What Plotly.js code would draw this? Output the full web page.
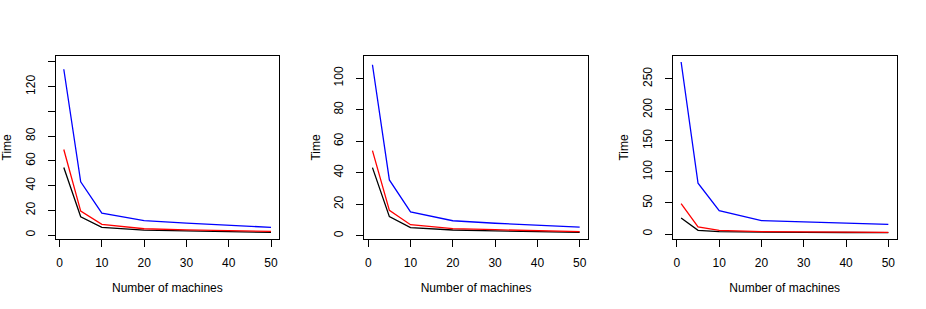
<!DOCTYPE html>
<html>
<head>
<meta charset="utf-8">
<script src="https://cdn.plot.ly/plotly-3.0.1.min.js"></script>
<style>html,body{margin:0;padding:0;background:#fff;}#chart{width:926px;height:309px;}</style>
</head>
<body>
<div id="chart"></div>
<script>
// Shared x values: number of machines
var machines = [1, 5, 10, 20, 30, 40, 50];

// Panel 1
var p1Black = [54.7, 14.8, 6.2, 4.0, 3.3, 2.8, 2.2];
var p1Red   = [69.2, 19.4, 8.6, 5.1, 4.2, 3.5, 3.0];
var p1Blue  = [134.1, 43.1, 17.8, 11.6, 9.7, 7.8, 6.2];

// Panel 2
var p2Black = [43.2, 12.1, 5.1, 3.6, 3.0, 2.5, 2.1];
var p2Red   = [54.0, 16.1, 7.0, 4.5, 3.8, 3.2, 2.6];
var p2Blue  = [108.5, 35.4, 15.1, 9.5, 7.9, 6.7, 5.5];

// Panel 3
var p3Black = [25.8, 5.9, 3.8, 2.7, 2.5, 2.4, 2.3];
var p3Red   = [48.9, 11.3, 5.9, 3.8, 3.5, 3.2, 2.7];
var p3Blue  = [277, 81.7, 37.6, 21.5, 19.5, 17.0, 15.6];

// Tick labels
var xTicks = [0, 10, 20, 30, 40, 50];
var y1Ticks = [0, 20, 40, 60, 80, 100, 120, 140];
var y1Text  = ['0', '20', '40', '60', '80', '', '120', ''];
var y2Ticks = [0, 20, 40, 60, 80, 100];
var y3Ticks = [0, 50, 100, 150, 200, 250];

var xTitle = 'Number of machines';
var yTitle = 'Time';

var panels = [
  {black: p1Black, red: p1Red, blue: p1Blue},
  {black: p2Black, red: p2Red, blue: p2Blue},
  {black: p3Black, red: p3Red, blue: p3Blue}
];

var traces = [];
panels.forEach(function (p, i) {
  var xa = i === 0 ? 'x' : 'x' + (i + 1);
  var ya = i === 0 ? 'y' : 'y' + (i + 1);
  [['black', '#000000'], ['red', '#FF0000'], ['blue', '#0000FF']].forEach(function (s) {
    traces.push({
      x: machines, y: p[s[0]], xaxis: xa, yaxis: ya,
      type: 'scatter', mode: 'lines',
      line: {color: s[1], width: 1.3},
      showlegend: false, hoverinfo: 'skip'
    });
  });
});

var font = {family: 'Liberation Sans, Arial, Helvetica, sans-serif', size: 12, color: '#000'};
var W = 926, pw = W / 3;
var yDom = [1 - 239 / 309, 1 - 55.8 / 309];

function xAxis(i) {
  return {
    domain: [(55.5 + i * pw) / W, (279.3 + i * pw) / W],
    range: [-0.96, 51.96],
    tickvals: xTicks, ticktext: xTicks.map(String),
    ticks: 'outside', ticklen: 7, tickwidth: 1, tickcolor: '#000',
    ticklabelstandoff: 6,
    showline: true, mirror: true, linecolor: '#000', linewidth: 1,
    showgrid: false, zeroline: false, fixedrange: true,
    tickfont: font,
    title: {text: xTitle, font: font, standoff: 14},
    anchor: i === 0 ? 'y' : 'y' + (i + 1)
  };
}
function yAxis(i, range, vals, text) {
  return {
    domain: yDom, range: range,
    tickvals: vals, ticktext: text,
    tickangle: -90,
    ticks: 'outside', ticklen: 7, tickwidth: 1, tickcolor: '#000',
    ticklabelstandoff: 8,
    showline: true, mirror: true, linecolor: '#000', linewidth: 1,
    showgrid: false, zeroline: false, fixedrange: true,
    tickfont: font,
    title: {text: yTitle, font: font, standoff: 9},
    anchor: i === 0 ? 'x' : 'x' + (i + 1)
  };
}

var layout = {
  width: 926, height: 309,
  margin: {l: 0, r: 0, t: 0, b: 0},
  paper_bgcolor: '#fff', plot_bgcolor: '#fff',
  font: font,
  showlegend: false,
  xaxis: xAxis(0), xaxis2: xAxis(1), xaxis3: xAxis(2),
  yaxis: yAxis(0, [-3.2, 145], y1Ticks, y1Text),
  yaxis2: yAxis(1, [-2.1, 114.2], y2Ticks, y2Ticks.map(String)),
  yaxis3: yAxis(2, [-8.06, 287], y3Ticks, y3Ticks.map(String))
};

Plotly.newPlot('chart', traces, layout, {displayModeBar: false, staticPlot: true});
</script>
</body>
</html>
